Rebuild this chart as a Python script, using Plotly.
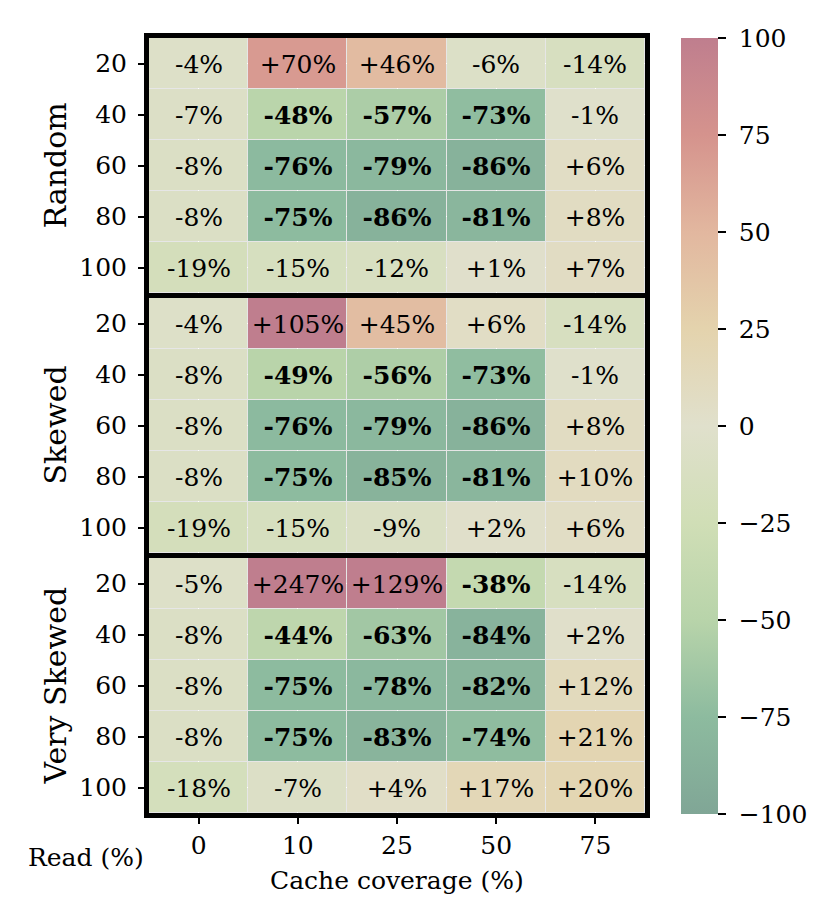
import plotly.graph_objects as go
from plotly.subplots import make_subplots

coverage = ["0", "10", "25", "50", "75"]
reads = ["20", "40", "60", "80", "100"]
groups = ["Random", "Skewed", "Very Skewed"]
cbar_ticks = [-100, -75, -50, -25, 0, 25, 50, 75, 100]

random_vals = [[-4, 70, 46, -6, -14],
               [-7, -48, -57, -73, -1],
               [-8, -76, -79, -86, 6],
               [-8, -75, -86, -81, 8],
               [-19, -15, -12, 1, 7]]
skewed_vals = [[-4, 105, 45, 6, -14],
               [-8, -49, -56, -73, -1],
               [-8, -76, -79, -86, 8],
               [-8, -75, -85, -81, 10],
               [-19, -15, -9, 2, 6]]
very_skewed_vals = [[-5, 247, 129, -38, -14],
                    [-8, -44, -63, -84, 2],
                    [-8, -75, -78, -82, 12],
                    [-8, -75, -83, -74, 21],
                    [-18, -7, 4, 17, 20]]

FONT = "DejaVu Serif"
W, H = 830, 923
cscale = [[0.0, "#80a696"], [0.125, "#8dbb9f"], [0.25, "#b8d4aa"], [0.375, "#d0deb6"],
          [0.5, "#e0e0cc"], [0.625, "#e4d3ad"], [0.75, "#e2b79f"], [0.875, "#d5938d"],
          [1.0, "#bf7e8e"]]


def labels(vals):
    out = []
    for row in vals:
        r = []
        for v in row:
            s = f"+{v}%" if v > 0 else f"{v}%"
            r.append(f"<b>{s}</b>" if v <= -30 else s)
        out.append(r)
    return out


def py(px):
    return 1 - px / H


fig = make_subplots(rows=3, cols=1, shared_xaxes=True, vertical_spacing=0)

# group domains in page pixels (top, bottom)
doms = [(30, 285), (290, 545), (550, 805)]
tick_font = dict(family=FONT, size=25, color="black")
cbar_text = ["\u2004" + str(v).replace("-", "\u2212") for v in cbar_ticks]
for i, vals in enumerate([random_vals, skewed_vals, very_skewed_vals]):
    fig.add_trace(go.Heatmap(
        z=vals, x=coverage, y=reads, text=labels(vals), texttemplate="%{text}",
        textfont=dict(family=FONT, size=25, color="black"),
        zmin=-100, zmax=100, colorscale=cscale, xgap=1, ygap=1,
        showscale=(i == 0), hoverinfo="skip",
        colorbar=dict(x=673 / W, xanchor="left", xpad=0, ypad=0,
                      y=py(806), yanchor="bottom", len=(806 - 30) / H,
                      lenmode="fraction", thickness=37,
                      outlinewidth=0, ticks="outside", ticklen=8, tickcolor="black",
                      tickwidth=1.5, tickvals=cbar_ticks, ticktext=cbar_text,
                      tickfont=tick_font),
    ), row=i + 1, col=1)
    yname = "yaxis" if i == 0 else f"yaxis{i + 1}"
    t, b = doms[i]
    fig.layout[yname].update(
        domain=[py(b), py(t)], autorange="reversed",
        showline=True, mirror=True, linewidth=5, linecolor="black",
        ticks="outside", ticklen=6, tickcolor="black", tickwidth=1.5,
        ticklabelstandoff=6, tickfont=tick_font)
    fig.add_annotation(text=groups[i], x=47 / W, y=py((t + b) / 2),
                       xref="paper", yref="paper", textangle=-90, showarrow=False,
                       xanchor="center", yanchor="middle",
                       font=dict(family=FONT, size=30, color="black"))

fig.update_xaxes(domain=[141 / W, 637 / W], showline=True, mirror=True,
                 linewidth=5, linecolor="black", ticks="outside", ticklen=6,
                 tickcolor="black", tickwidth=1.5, tickfont=tick_font)

fig.add_annotation(text="Cache coverage (%)", x=(141 + 637) / 2 / W, y=py(872),
                   xref="paper", yref="paper", showarrow=False,
                   xanchor="center", yanchor="middle",
                   font=dict(family=FONT, size=25, color="black"))
fig.add_annotation(text="Read (%)", x=78 / W, y=py(849), xref="paper", yref="paper",
                   showarrow=False, xanchor="center", yanchor="middle",
                   font=dict(family=FONT, size=25, color="black"))

fig.update_layout(width=W, height=H, margin=dict(l=0, r=0, t=0, b=0),
                  plot_bgcolor="#e6e6e6", paper_bgcolor="white",
                  font=dict(family=FONT, color="black"))

fig.write_html("out.html")
